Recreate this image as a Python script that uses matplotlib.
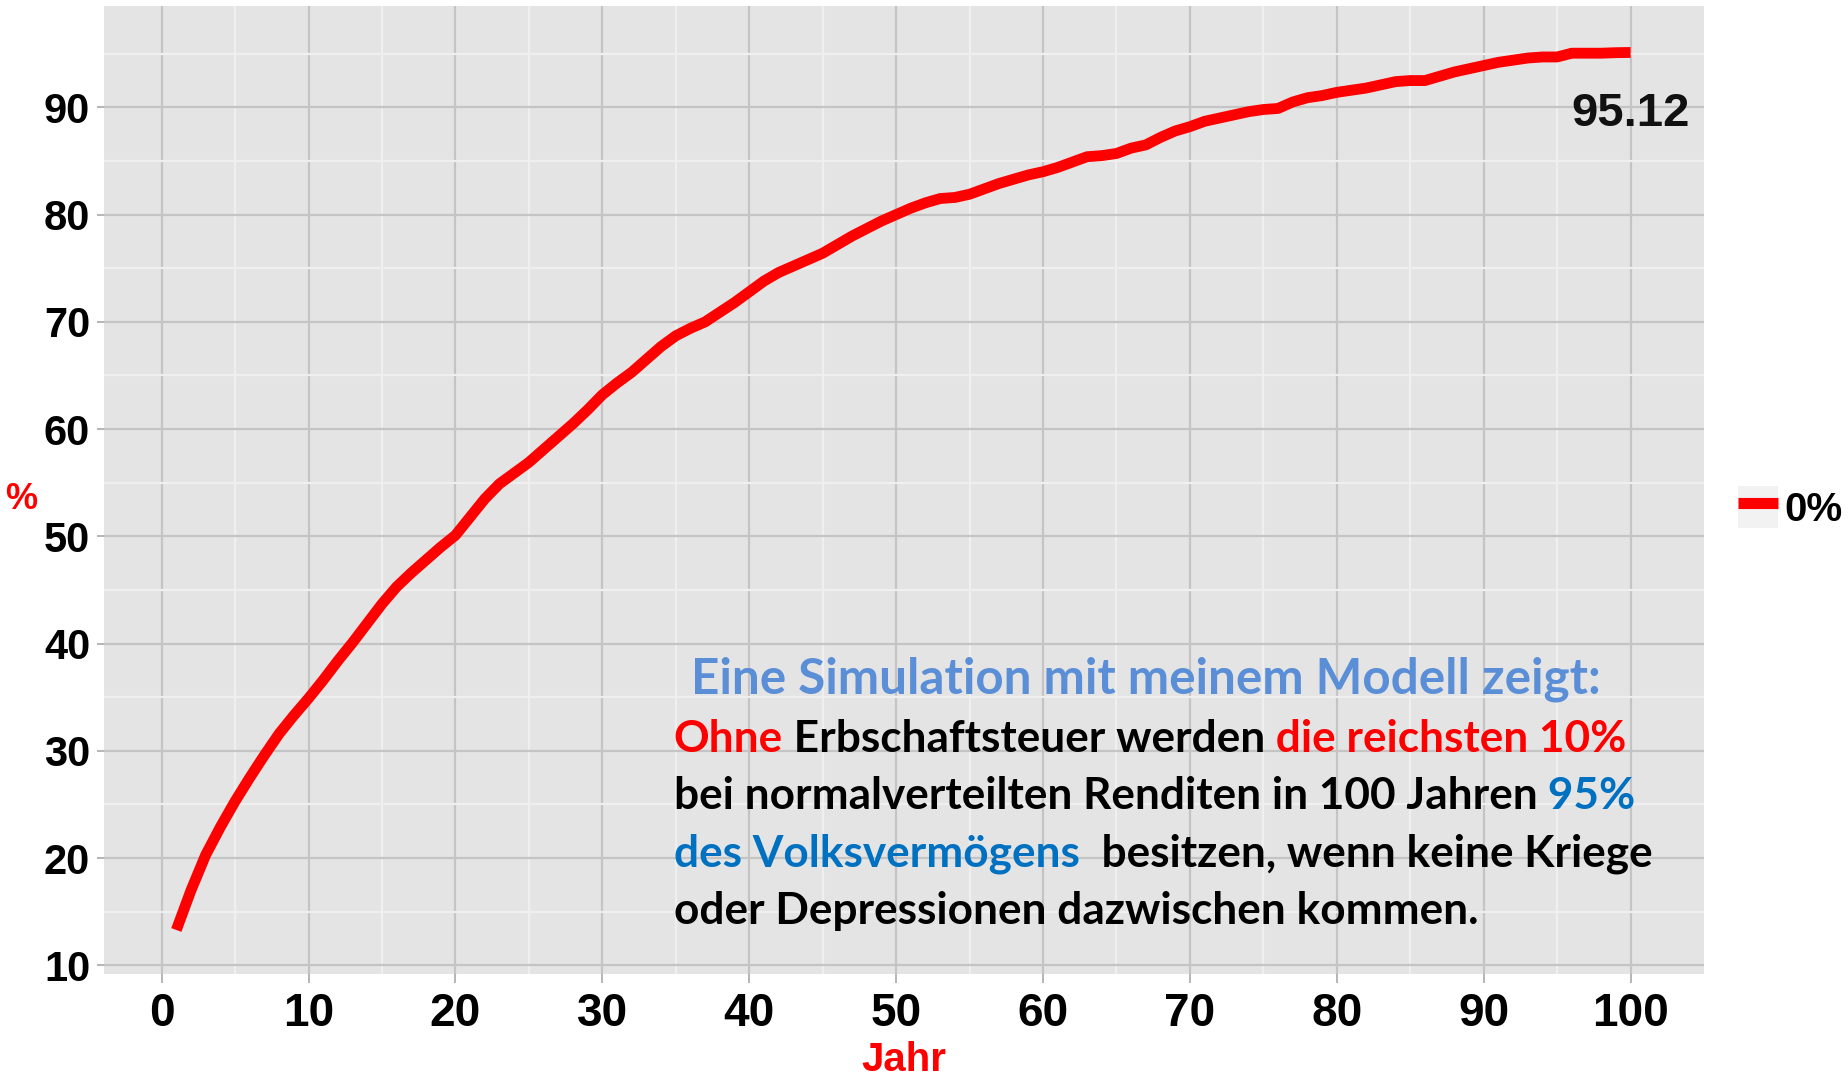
import matplotlib
matplotlib.use("Agg")
import matplotlib.pyplot as plt
from matplotlib.lines import Line2D
from matplotlib.patches import Patch
from matplotlib.legend_handler import HandlerTuple

jahre = list(range(1, 101))
anteil = [
    13.3, 17.0, 20.3, 22.9, 25.3, 27.5, 29.6, 31.6, 33.3, 34.9,
    36.6, 38.4, 40.1, 41.9, 43.7, 45.3, 46.6, 47.8, 49.0, 50.1,
    51.8, 53.5, 54.9, 55.9, 56.9, 58.1, 59.3, 60.5, 61.8, 63.2,
    64.3, 65.3, 66.5, 67.7, 68.7, 69.4, 70.0, 70.9, 71.8, 72.8,
    73.8, 74.6, 75.2, 75.8, 76.4, 77.2, 78.0, 78.7, 79.4, 80.0,
    80.6, 81.1, 81.5, 81.6, 81.9, 82.4, 82.9, 83.3, 83.7, 84.0,
    84.4, 84.9, 85.4, 85.5, 85.7, 86.2, 86.5, 87.2, 87.8, 88.2,
    88.7, 89.0, 89.3, 89.6, 89.8, 89.9, 90.5, 90.9, 91.1, 91.4,
    91.6, 91.8, 92.1, 92.4, 92.5, 92.5, 92.9, 93.3, 93.6, 93.9,
    94.2, 94.4, 94.6, 94.7, 94.7, 95.05, 95.05, 95.05, 95.1, 95.12,
]
endwert = 95.12
x_ticks = list(range(0, 101, 10))
y_ticks = list(range(10, 91, 10))
serien_name = "0%"

rot = "#FF0000"
blau = "#0070C0"
titel_blau = "#5A8ED6"

titel_zeile = "Eine Simulation mit meinem Modell zeigt:"
text_zeilen = [
    [("Ohne", rot), (" Erbschaftsteuer werden", "black"), (" die reichsten 10%", rot)],
    [("bei normalverteilten Renditen in 100 Jahren", "black"), (" 95%", blau)],
    [("des Volksvermögens", blau), ("  besitzen, wenn keine Kriege", "black")],
    [("oder Depressionen dazwischen kommen.", "black")],
]

narrow = ["Liberation Sans Narrow", "Liberation Sans", "DejaVu Sans"]
calibri = ["Lato", "DejaVu Sans"]
plt.rcParams["font.family"] = narrow

fig = plt.figure(figsize=(18.48, 10.75), dpi=100)
ax = fig.add_axes([0.0563, 0.0944, 0.8658, 0.9])
ax.set_facecolor("#E4E4E4")
for s in ax.spines.values():
    s.set_visible(False)

ax.plot(jahre, anteil, color=rot, lw=7.8, solid_capstyle="butt", zorder=3)

ax.set_xlim(-3.92, 105.0)
ax.set_ylim(9.24, 99.45)
ax.set_xticks(x_ticks)
ax.set_yticks(y_ticks)
ax.set_xticks([t + 5 for t in x_ticks[:-1]], minor=True)
ax.set_yticks([t + 5 for t in y_ticks], minor=True)
ax.grid(which="major", color="#C4C4C4", lw=1.6)
ax.grid(which="minor", color="#EFEFEF", lw=1.6)
ax.set_axisbelow(True)
ax.tick_params(which="minor", length=0)
ax.tick_params(axis="y", which="major", labelsize=30, length=5, width=1.4,
               color="#B5B5B5", pad=5)
ax.tick_params(axis="x", which="major", labelsize=33, length=6.5, width=1.4,
               color="#B5B5B5", pad=7)
for lab in ax.get_xticklabels() + ax.get_yticklabels():
    lab.set_fontweight("bold")

ax.set_xlabel("Jahr", color=rot, fontsize=29, fontweight="bold", va="center")
ax.xaxis.set_label_coords(0.5, -0.089)
ax.set_ylabel("%", color=rot, fontsize=26, fontweight="bold", rotation=0,
              va="center", ha="center")
ax.yaxis.set_label_coords(-0.052, 0.49)

ax.text(jahre[-1], 89.4, f"{endwert:.2f}", ha="center", va="center",
        fontsize=34, fontweight="bold", color="#111111")

# Erklaerungstext
ax.text(0.651, 0.3044, titel_zeile, transform=ax.transAxes, ha="center",
        va="center", color=titel_blau, fontsize=35.6, fontweight="bold",
        family=calibri)
for i, zeile in enumerate(text_zeilen):
    prev = None
    for stueck, farbe in zeile:
        if prev is None:
            prev = ax.text(0.356, 0.2424 - i * 0.0592, stueck,
                           transform=ax.transAxes, ha="left", va="center",
                           color=farbe, fontsize=31.8, fontweight="bold",
                           family=calibri)
        else:
            prev = ax.annotate(stueck, xy=(1, 0), xycoords=prev, ha="left",
                               va="bottom", color=farbe, fontsize=31.8,
                               fontweight="bold", family=calibri)

handle = (Patch(facecolor="#F2F2F2", edgecolor="none"),
          Line2D([], [], color=rot, lw=8, solid_capstyle="butt"))
fig.legend([handle], [serien_name],
           handler_map={tuple: HandlerTuple(ndivide=1, pad=0)},
           loc="center left", bbox_to_anchor=(0.9403, 0.528),
           frameon=False, handlelength=1.0, handleheight=1.2,
           handletextpad=0.15, borderpad=0, borderaxespad=0,
           prop={"family": "Liberation Sans", "weight": "bold", "size": 29})

fig.savefig("out.png", dpi=100, facecolor="white")
